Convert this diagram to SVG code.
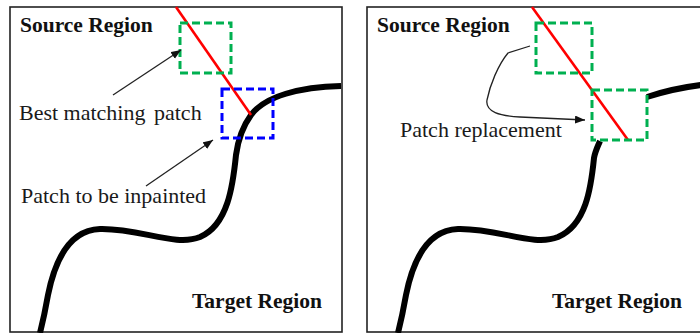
<svg xmlns="http://www.w3.org/2000/svg" width="700" height="333" viewBox="0 0 700 333">
<style>
.frame{fill:#fff;stroke:#222;stroke-width:1.6}
.curve{fill:none;stroke:#000;stroke-width:6;stroke-linecap:butt}
.red{stroke:#ff0000;stroke-width:2.6;fill:none}
.gpatch{fill:none;stroke:#00b050;stroke-width:3;stroke-dasharray:8 4}
.bpatch{fill:none;stroke:#0000ff;stroke-width:3;stroke-dasharray:8 4}
.arrow{fill:none;stroke:#222;stroke-width:1.3;marker-end:url(#ah)}
.lbl{font-family:"Liberation Serif",serif;font-size:22px;fill:#1a1a1a}
.bold{font-family:"Liberation Serif",serif;font-size:21.5px;font-weight:bold;fill:#111}
</style>
<defs>
<marker id="ah" markerUnits="userSpaceOnUse" markerWidth="12" markerHeight="10" refX="10" refY="4" orient="auto">
<path d="M0,0 L10,4 L0,8 Z" fill="#111"/>
</marker>
</defs>
<g id="left-panel">
<rect class="frame" x="10" y="7" width="332" height="325"/>
<path class="curve" d="M 341 86 C 300 87, 265 96, 251 115 C 243 126, 238 140, 236 155 C 233 185, 228 225, 200 237 C 175 247, 140 228, 100 229 C 70 230, 55 260, 48 295 C 45 312, 42 325, 40 333"/>
<line class="red" x1="176" y1="7" x2="251" y2="115"/>
</g>
<g id="best-patch"><rect class="gpatch" x="180" y="23" width="51" height="50"/></g>
<g id="target-patch"><rect class="bpatch" x="222" y="89" width="51" height="49"/></g>
<g id="right-panel">
<rect class="frame" x="367" y="7" width="345" height="325"/>
<path class="curve" d="M 600 141 C 597 148, 595 152, 594 158 C 591 188, 586 225, 558 237 C 533 247, 498 228, 458 229 C 428 230, 413 260, 406 295 C 403 312, 400 325, 398 333"/>
<path class="curve" d="M 647 97 C 665 91, 685 87, 701 85"/>
<line class="red" x1="532" y1="7" x2="628" y2="140"/>
</g>
<g id="source-patch"><rect class="gpatch" x="536" y="23" width="56" height="50"/></g>
<g id="replaced-patch"><rect class="gpatch" x="592" y="90" width="55" height="50"/></g>
<g id="connectors">
<line class="arrow" x1="113" y1="95" x2="181" y2="50"/>
<line class="arrow" x1="146" y1="186" x2="213" y2="140"/>
<path class="arrow" d="M 530 46 L 508 53 C 498 65, 490 85, 487 100 C 485 112, 500 116, 520 117 L 585 120"/>
</g>
<g id="labels">
<text class="bold" x="20" y="32">Source Region</text>
<text class="lbl" x="19" y="120">Best matching <tspan dx="3">patch</tspan></text>
<text class="lbl" x="21" y="203">Patch to be inpainted</text>
<text class="bold" x="192" y="308">Target Region</text>
<text class="bold" x="377" y="32">Source Region</text>
<text class="lbl" x="400" y="137">Patch replacement</text>
<text class="bold" x="552" y="308">Target Region</text>
</g>
</svg>
